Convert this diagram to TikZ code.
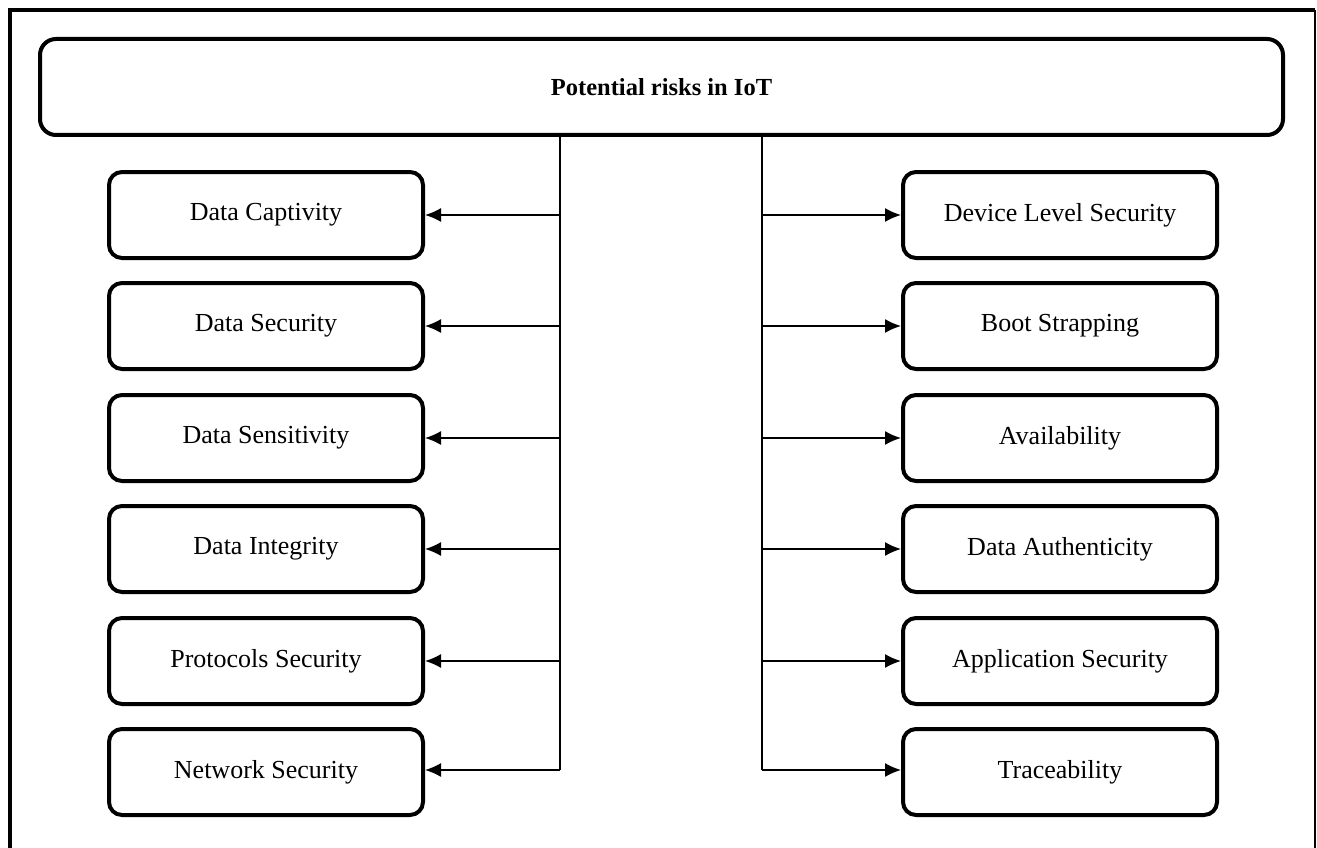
\documentclass[tikz,border=0pt]{standalone}
\usepackage{fontspec}
\setmainfont{Liberation Serif}
\usepackage{tikz}
\usetikzlibrary{arrows.meta,positioning,calc}
\tikzstyle{riskbox}=[draw,line width=4pt,rounded corners=13pt,minimum width=314pt,minimum height=86pt,inner sep=0pt,font=\fontsize{26}{30}\selectfont]
\tikzstyle{headbox}=[draw,line width=4pt,rounded corners=16pt,minimum width=1243pt,minimum height=96pt,inner sep=0pt,font=\bfseries\fontsize{24.5}{30}\selectfont]
\tikzstyle{link}=[line width=1.5pt,-{Latex[length=16pt,width=14pt]}]

\begin{document}
\begin{tikzpicture}[x=1pt,y=-1pt]
\useasboundingbox (0,0) rectangle (1317,848);
% frame
\draw[line width=4pt] (10,848) -- (10,10) -- (1315,10);
\draw[line width=1.5pt] (1315,10) -- (1315,848);

\node [headbox] (risks) at (661.5,87) {Potential risks in IoT};

% left column
\node [riskbox] (captivity) at (266,215) {Data Captivity};
\node [riskbox] (datasec) at (266,326) {Data Security};
\node [riskbox] (sensitivity) at (266,438) {Data Sensitivity};
\node [riskbox] (integrity) at (266,549) {Data Integrity};
\node [riskbox] (protocols) at (266,661) {Protocols Security};
\node [riskbox] (network) at (266,772) {Network Security};

% right column
\node [riskbox] (device) at (1060,215) {Device Level Security};
\node [riskbox] (boot) at (1060,326) {Boot Strapping};
\node [riskbox] (avail) at (1060,438) {Availability};
\node [riskbox] (authentic) at (1060,549) {Data Authenticity};
\node [riskbox] (appsec) at (1060,661) {Application Security};
\node [riskbox] (trace) at (1060,772) {Traceability};

% trunks
\coordinate (lbot) at (560,770);
\coordinate (rbot) at (762,770);
\draw[line width=1.5pt] (risks.south -| lbot) -- (lbot);
\draw[line width=1.5pt] (risks.south -| rbot) -- (rbot);

\draw[link] (lbot |- captivity.east) -- (captivity.east);
\draw[link] (lbot |- datasec.east) -- (datasec.east);
\draw[link] (lbot |- sensitivity.east) -- (sensitivity.east);
\draw[link] (lbot |- integrity.east) -- (integrity.east);
\draw[link] (lbot |- protocols.east) -- (protocols.east);
\draw[link] (lbot) -- (lbot -| network.east);

\draw[link] (rbot |- device.west) -- (device.west);
\draw[link] (rbot |- boot.west) -- (boot.west);
\draw[link] (rbot |- avail.west) -- (avail.west);
\draw[link] (rbot |- authentic.west) -- (authentic.west);
\draw[link] (rbot |- appsec.west) -- (appsec.west);
\draw[link] (rbot) -- (rbot -| trace.west);
\end{tikzpicture}
\end{document}
